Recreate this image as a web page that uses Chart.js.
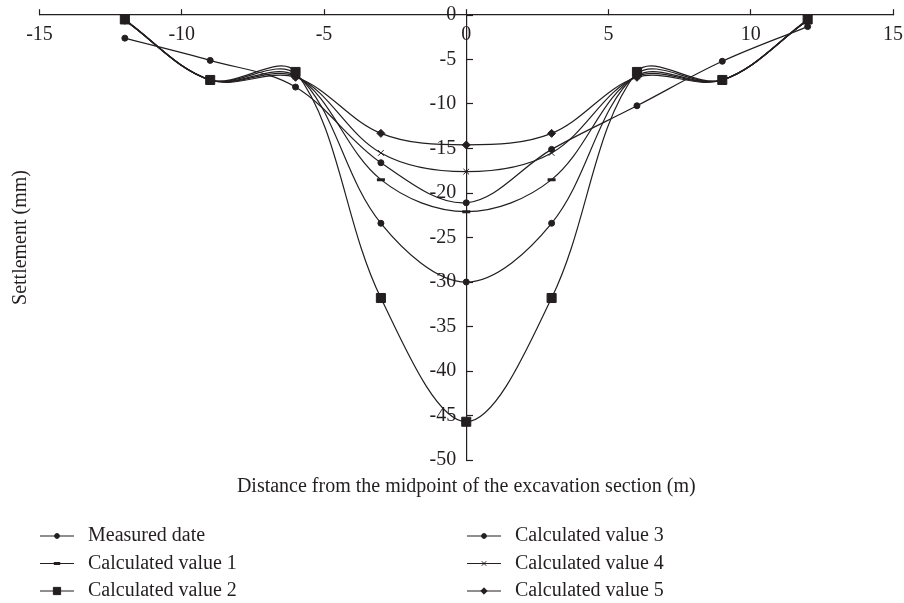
<!DOCTYPE html>
<html>
<head>
<meta charset="utf-8">
<script src="https://cdn.jsdelivr.net/npm/chart.js@4.4.1/dist/chart.umd.min.js"></script>
<style>
  body { margin: 0; background: #fff; }
</style>
</head>
<body>
<canvas id="settlement-chart" width="904" height="603"></canvas>
<script>
// distance from midpoint (m)
const distances = [-12, -9, -6, -3, 0, 3, 6, 9, 12];

// settlement (mm)
const measured = [-2.6, -5.1, -8.1, -16.6, -21.1, -15.1, -10.2, -5.2, -1.3];
const calc1 = [-0.6, -7.3, -6.8, -18.5, -22.1, -18.5, -6.8, -7.3, -0.6];
const calc2 = [-0.5, -7.3, -6.4, -31.8, -45.7, -31.8, -6.4, -7.3, -0.5];
const calc3 = [-0.6, -7.3, -6.6, -23.4, -30.0, -23.4, -6.6, -7.3, -0.6];
const calc4 = [-0.6, -7.3, -6.9, -15.5, -17.6, -15.5, -6.9, -7.3, -0.6];
const calc5 = [-0.6, -7.3, -7.0, -13.3, -14.6, -13.3, -7.0, -7.3, -0.6];

const seriesNames = ['Measured date', 'Calculated value 1', 'Calculated value 2',
  'Calculated value 3', 'Calculated value 4', 'Calculated value 5'];

const xTicks = [-15, -10, -5, 0, 5, 10, 15];
const yTicks = [0, -5, -10, -15, -20, -25, -30, -35, -40, -45, -50];

const ink = '#231f20';

function pts(vals) {
  return distances.map((d, i) => ({ x: d, y: vals[i] }));
}

function series(label, vals, style, radius, bw) {
  return {
    label: label,
    data: pts(vals),
    borderColor: ink,
    backgroundColor: ink,
    borderWidth: 1.2,
    tension: 0.35,
    pointStyle: style,
    pointRadius: radius,
    pointBorderWidth: bw,
    pointBackgroundColor: ink,
    pointBorderColor: ink
  };
}

const data = {
  datasets: [
    series(seriesNames[0], measured, 'circle', 3, 1),
    series(seriesNames[1], calc1, 'line', 4, 3),
    series(seriesNames[2], calc2, 'rect', 6.4, 1),
    series(seriesNames[3], calc3, 'circle', 3, 1),
    series(seriesNames[4], calc4, 'crossRot', 4, 1),
    series(seriesNames[5], calc5, 'rectRot', 4, 1)
  ]
};

// legend in two columns under the chart
const colLegend = {
  id: 'colLegend',
  afterDraw(chart) {
    const ctx = chart.ctx;
    const left = chart.chartArea.left;
    ctx.save();
    ctx.font = '20px "Liberation Serif"';
    ctx.textBaseline = 'middle';
    ctx.textAlign = 'left';
    chart.data.datasets.forEach((ds, i) => {
      const col = Math.floor(i / 3);
      const row = i % 3;
      const x0 = left + 0.5 + col * 427;
      const y = 536 + row * 27.5;
      ctx.strokeStyle = ink;
      ctx.fillStyle = ink;
      ctx.lineWidth = 1.2;
      ctx.beginPath();
      ctx.moveTo(x0, y);
      ctx.lineTo(x0 + 34, y);
      ctx.stroke();
      ctx.lineWidth = ds.pointBorderWidth;
      Chart.helpers.drawPoint(ctx, {
        pointStyle: ds.pointStyle,
        radius: ds.pointRadius * 0.8,
        borderWidth: ds.pointBorderWidth,
        rotation: 0
      }, x0 + 17, y);
      ctx.fillStyle = ink;
      ctx.fillText(ds.label, x0 + 48, y);
    });
    ctx.restore();
  }
};

Chart.defaults.font.family = '"Liberation Serif", "Times New Roman", serif';
Chart.defaults.font.size = 20;
Chart.defaults.color = ink;

const config = {
  type: 'line',
  data,
  options: {
    responsive: false,
    animation: false,
    events: [],
    layout: {
      padding: { left: 0, right: 11, top: 15, bottom: 104 }
    },
    plugins: {
      legend: { display: false },
      tooltip: { enabled: false }
    },
    scales: {
      x: {
        type: 'linear',
        position: { y: 0 },
        min: -15,
        max: 15,
        afterBuildTicks(scale) {
          scale.ticks = xTicks.map(v => ({ value: v }));
        },
        afterFit(scale) {
          scale.height = 0;
          scale.paddingLeft = 0;
          scale.paddingRight = 0;
        },
        border: { display: true, color: ink, width: 1.2 },
        grid: { drawOnChartArea: false, color: ink, tickLength: -6, tickWidth: 1.2 },
        ticks: { padding: 13.5, color: ink, font: { size: 20 } }
      },
      y: {
        type: 'linear',
        position: { x: 0 },
        min: -50,
        max: 0,
        afterBuildTicks(scale) {
          scale.ticks = yTicks.map(v => ({ value: v }));
        },
        afterFit(scale) {
          scale.width = 0;
          scale.paddingTop = 0;
          scale.paddingBottom = 0;
        },
        border: { display: true, color: ink, width: 1.2 },
        grid: { drawOnChartArea: false, color: ink, tickLength: -7, tickWidth: 1.2 },
        ticks: {
          color: ink,
          font: { size: 20 },
          callback: (v) => v + '  '
        }
      },
      xTitle: {
        type: 'linear',
        axis: 'x',
        position: 'bottom',
        border: { display: false },
        grid: { display: false, drawTicks: false },
        ticks: { display: false },
        title: {
          display: true,
          text: 'Distance from the midpoint of the excavation section (m)',
          color: ink,
          font: { size: 20 },
          padding: { top: 15, bottom: 0 }
        }
      },
      yTitle: {
        type: 'linear',
        axis: 'y',
        position: 'left',
        border: { display: false },
        grid: { display: false, drawTicks: false },
        ticks: { display: false },
        title: {
          display: true,
          text: 'Settlement (mm)',
          color: ink,
          font: { size: 20 },
          padding: { top: 9, bottom: 6.5 }
        }
      }
    }
  },
  plugins: [colLegend]
};

const myChart = new Chart(
  document.getElementById('settlement-chart'),
  config
);
</script>
</body>
</html>
